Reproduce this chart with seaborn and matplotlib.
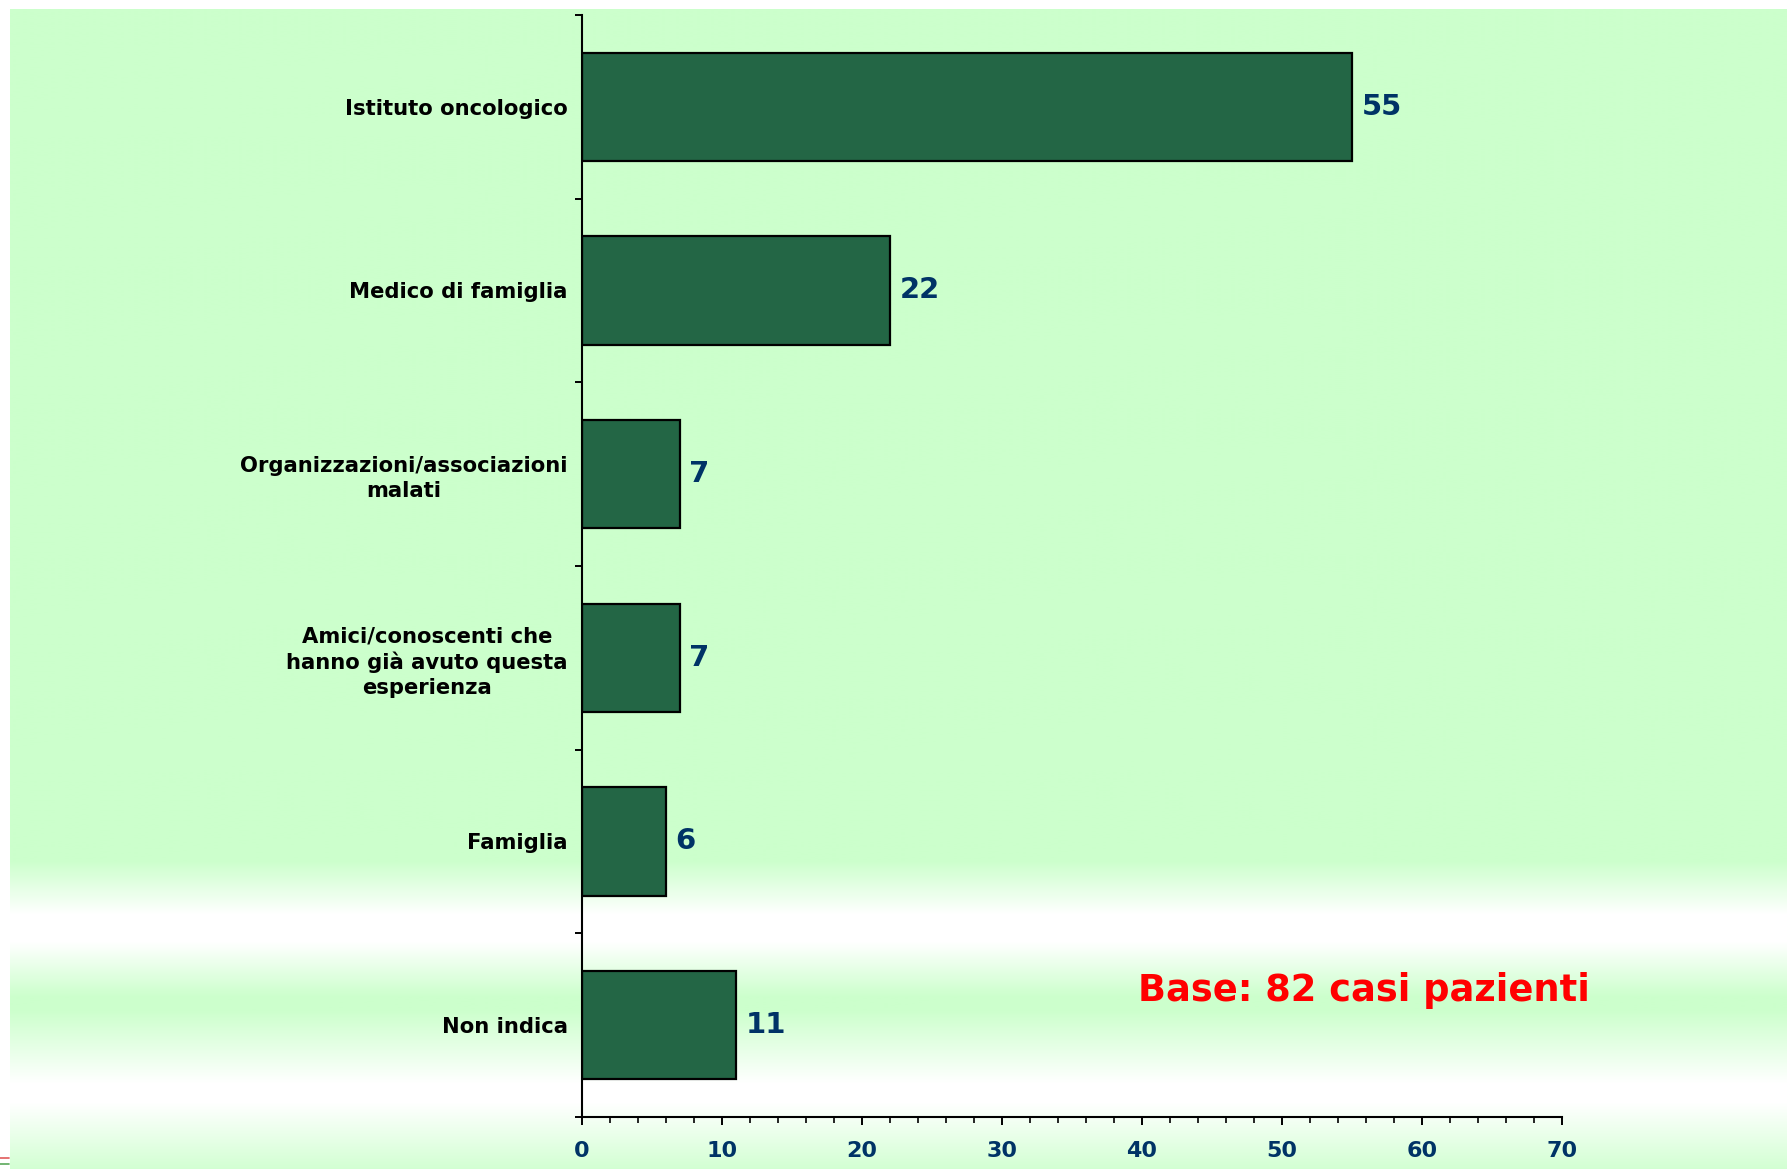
import numpy as np
import pandas as pd
import matplotlib
matplotlib.use("Agg")
import matplotlib.pyplot as plt
import seaborn as sns

# Survey answers: who suggested the facility (counts)
categories = [
    "Istituto oncologico",
    "Medico di famiglia",
    "Organizzazioni/associazioni\nmalati",
    "Amici/conoscenti che\nhanno già avuto questa\nesperienza",
    "Famiglia",
    "Non indica",
]
counts = [55, 22, 7, 7, 6, 11]
x_ticks = [0, 10, 20, 30, 40, 50, 60, 70]
note_text = "Base: 82 casi pazienti"

BAR_GREEN = "#236645"
NAVY = "#003366"
MINT = np.array([204, 255, 204]) / 255.0

sns.set_style("ticks")
plt.rcParams["font.family"] = ["DejaVu Sans"]

W, H, DPI = 1787, 1169, 100
fig = plt.figure(figsize=(W / DPI, H / DPI), dpi=DPI, facecolor="white")

# Background: mint panel with two soft white bands near the bottom
bg = fig.add_axes([0, 0, 1, 1], zorder=-10)
rows = np.arange(H)
stop_y = [0, 858, 912, 940, 995, 1008, 1082, 1102, H]
stop_t = [0, 0, 1, 1, 0, 0, 1, 1, 0.12]
t = np.interp(rows, stop_y, stop_t)
col = MINT[None, :] * (1 - t[:, None]) + np.ones(3)[None, :] * t[:, None]
grad = np.repeat(col[:, None, :], 2, axis=1)
bg.imshow(grad, extent=(10, W, H, 9), aspect="auto", interpolation="bilinear")
bg.plot([0, 9], [1157.5, 1157.5], color="#e05a5a", lw=1.2)
bg.plot([0, 9], [1164, 1164], color="#5aa85a", lw=1.2)
bg.set_xlim(0, W)
bg.set_ylim(H, 0)
bg.axis("off")

# Main chart
ax = fig.add_axes([581.7 / W, 1 - 1117 / H, 980 / W, 1102 / H])
ax.set_facecolor("none")

df = pd.DataFrame({"categoria": categories, "valore": counts})
sns.barplot(data=df, x="valore", y="categoria", orient="h", color=BAR_GREEN,
            saturation=1, edgecolor="black", linewidth=1.6, width=0.59, ax=ax)

for cont in ax.containers:
    ax.bar_label(cont, labels=[str(v) for v in counts], padding=7,
                 fontsize=21, fontweight="bold", color=NAVY)

ax.set_xlim(0, 70)
ax.set_ylim(len(categories) - 0.5, -0.5)
ax.set_xlabel("")
ax.set_ylabel("")

ax.set_xticks(x_ticks)
ax.set_xticklabels([str(v) for v in x_ticks], fontsize=16, fontweight="bold", color=NAVY)
ax.set_xticks(np.arange(0, 71, 2), minor=True)
ax.tick_params(axis="x", which="major", length=7.5 * 72 / DPI, width=1.4,
               direction="out", pad=12, color="black")
ax.tick_params(axis="x", which="minor", length=5.5 * 72 / DPI, width=1.2,
               direction="out", color="black")

ax.set_yticks(range(len(categories)))
ax.set_yticklabels(categories, fontsize=15.2, fontweight="bold", color="black")
ax.set_yticks(np.arange(-0.5, len(categories), 1.0), minor=True)
ax.tick_params(axis="y", which="major", length=0, pad=10)
ax.tick_params(axis="y", which="minor", length=7 * 72 / DPI, width=1.4,
               direction="out", color="black")
for lab in ax.get_yticklabels():
    lab.set_multialignment("center")
    lab.set_linespacing(1.3)

for side in ("top", "right"):
    ax.spines[side].set_visible(False)
for side in ("left", "bottom"):
    ax.spines[side].set_color("black")
    ax.spines[side].set_linewidth(1.5)

fig.text(1138 / W, 1 - 1001 / H, note_text, color="#ff0000", fontsize=26.5,
         fontweight="bold", ha="left", va="baseline")

fig.savefig("out.png", dpi=DPI, facecolor="white")
